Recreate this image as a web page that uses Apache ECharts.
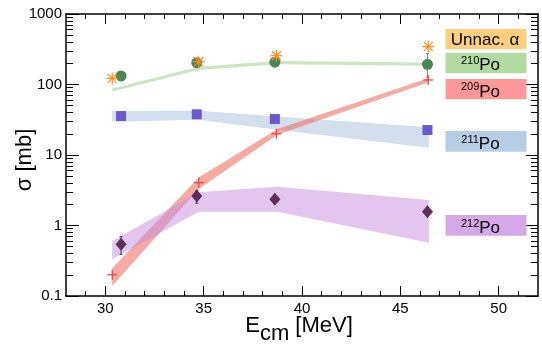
<!DOCTYPE html>
<html>
<head>
<meta charset="utf-8">
<script src="https://cdn.jsdelivr.net/npm/echarts@6/dist/echarts.min.js"></script>
<style>
html,body{margin:0;padding:0;background:#fff;}
#chart{width:542px;height:349px;}
</style>
</head>
<body>
<div id="chart"></div>
<script>
// ---- data ----
const xTickLabels = [30, 35, 40, 45, 50];
const xMinorTicks = [29, 31, 32, 33, 34, 36, 37, 38, 39, 41, 42, 43, 44, 46, 47, 48, 49, 51];
const yTickLabels = [0.1, 1, 10, 100, 1000];
const yMinorTicks = [0.2,0.3,0.4,0.5,0.6,0.7,0.8,0.9, 2,3,4,5,6,7,8,9, 20,30,40,50,60,70,80,90, 200,300,400,500,600,700,800,900];

const bandE  = [30.35, 34.75, 38.75, 46.45];
const alphaE = [30.35, 34.75, 38.7, 46.42];
const poE    = [30.8, 34.65, 38.62, 46.38];

const unnacAlpha = [122, 211, 256, 344];
const po210 = [132, 204, 207, 193];
const po210ErrLo = [124, 193, 196, 125];
const po210ErrHi = [140, 215, 218, 275];
const po209 = [0.2, 4.05, 20, 116];
const po211 = [35.7, 37.8, 32.4, 22.6];
const po212 = [0.54, 2.62, 2.35, 1.57];
const po212ErrLo = [0.39, 2.07, 2.15, 1.38];
const po212ErrHi = [0.70, 3.15, 2.57, 1.80];

const band210Lo = [79.5, 160, 193, 185];
const band210Hi = [88, 178, 215, 205];
const band209Lo = [0.139, 3.3, 19.3, 108];
const band209Hi = [0.247, 4.8, 23.3, 124];
const band211Lo = [29.6, 31.5, 22.9, 12.7];
const band211Hi = [42.1, 42.5, 35.1, 24.7];
const band212Lo = [0.332, 1.57, 1.57, 0.57];
const band212Hi = [0.603, 2.96, 3.55, 2.30];

// ---- helpers ----
const FONT = 'Liberation Sans, Arial, Helvetica, sans-serif';
function bandSeries(xs, lo, hi, color, z) {
  return {
    type: 'custom', z: z, silent: true, clip: true,
    data: xs.map((x, i) => [x, lo[i]]),
    renderItem: function (params, api) {
      if (params.dataIndex !== 0) return null;
      const pts = [];
      for (let i = 0; i < xs.length; i++) pts.push(api.coord([xs[i], hi[i]]));
      for (let i = xs.length - 1; i >= 0; i--) pts.push(api.coord([xs[i], lo[i]]));
      return { type: 'polygon', shape: { points: pts }, style: { fill: color } };
    }
  };
}
function errSeries(xs, lo, hi, color, cap, z) {
  return {
    type: 'custom', z: z, silent: true,
    data: xs.map((x, i) => [x, lo[i], hi[i]]),
    encode: { x: 0, y: [1, 2] },
    renderItem: function (params, api) {
      const a = api.coord([api.value(0), api.value(1)]);
      const b = api.coord([api.value(0), api.value(2)]);
      const st = { stroke: color, lineWidth: 1 };
      return { type: 'group', children: [
        { type: 'line', shape: { x1: a[0], y1: a[1], x2: b[0], y2: b[1] }, style: st },
        { type: 'line', shape: { x1: a[0]-cap, y1: a[1], x2: a[0]+cap, y2: a[1] }, style: st },
        { type: 'line', shape: { x1: b[0]-cap, y1: b[1], x2: b[0]+cap, y2: b[1] }, style: st }
      ]};
    }
  };
}
function lineMarker(xs, ys, color, kind, r, z) {
  return {
    type: 'custom', z: z, silent: true,
    data: xs.map((x, i) => [x, ys[i]]),
    renderItem: function (params, api) {
      const p = api.coord([api.value(0), api.value(1)]);
      const st = { stroke: color, lineWidth: 1.2 };
      const ch = [
        { type: 'line', shape: { x1: p[0]-r, y1: p[1], x2: p[0]+r, y2: p[1] }, style: st },
        { type: 'line', shape: { x1: p[0], y1: p[1]-r, x2: p[0], y2: p[1]+r }, style: st }
      ];
      if (kind === 'star') {
        const d = r * 0.75;
        ch.push({ type: 'line', shape: { x1: p[0]-d, y1: p[1]-d, x2: p[0]+d, y2: p[1]+d }, style: st });
        ch.push({ type: 'line', shape: { x1: p[0]-d, y1: p[1]+d, x2: p[0]+d, y2: p[1]-d }, style: st });
      }
      return { type: 'group', children: ch };
    }
  };
}
function pairs(xs, ys) { return xs.map((x, i) => [x, ys[i]]); }

const axisLine = { show: true, lineStyle: { color: '#000', width: 1.5 } };
function xAx(pos, ticks, len, labels, showLine) {
  return {
    type: 'value', position: pos, min: 28, max: 52,
    axisLine: showLine ? axisLine : { show: false },
    axisTick: { show: true, inside: true, length: len, customValues: ticks, lineStyle: { color: '#000', width: 1 } },
    axisLabel: labels ? { show: true, customValues: labels, color: '#000', fontSize: 15, fontFamily: FONT, margin: 5 } : { show: false },
    splitLine: { show: false }
  };
}
function yAx(pos, ticks, len, labels, showLine) {
  return {
    type: 'log', logBase: 10, position: pos, min: 0.1, max: 1000,
    axisLine: showLine ? axisLine : { show: false },
    axisTick: { show: true, inside: true, length: len, customValues: ticks, lineStyle: { color: '#000', width: 1 } },
    axisLabel: labels ? { show: true, customValues: labels, color: '#000', fontSize: 15, fontFamily: FONT, margin: 4,
      formatter: v => String(v) } : { show: false },
    splitLine: { show: false }
  };
}

const legendBoxes = [
  { y0: 29, y1: 49.3, color: '#ffcf80', text: 'Unnac. α', tx: 485, sup: null },
  { y0: 52.7, y1: 73.3, color: '#b3db9f', text: 'Po', tx: 480.5, sup: '210' },
  { y0: 79, y1: 99.3, color: '#ff9999', text: 'Po', tx: 480.5, sup: '209' },
  { y0: 131, y1: 151.7, color: '#b7cde3', text: 'Po', tx: 480.5, sup: '211' },
  { y0: 215, y1: 235.7, color: '#d5a9e7', text: 'Po', tx: 480.5, sup: '212' }
];
const graphics = [];
legendBoxes.forEach(b => {
  graphics.push({ type: 'rect', shape: { x: 445.5, y: b.y0, width: 81, height: b.y1 - b.y0 }, style: { fill: b.color }, z: 1 });
  const cy = (b.y0 + b.y1) / 2;
  if (b.sup) {
    graphics.push({ type: 'text', x: b.tx, y: cy + 2.8, z: 2, style: {
      text: '{s|' + b.sup + '}{t|' + b.text + '}', align: 'center', verticalAlign: 'middle',
      rich: { s: { fontSize: 11, fontFamily: FONT, fill: '#000', lineHeight: 11, verticalAlign: 'top' },
              t: { fontSize: 17, fontFamily: FONT, fill: '#000', lineHeight: 20 } } } });
  } else {
    graphics.push({ type: 'text', x: b.tx, y: cy + 0.8, z: 2, style: {
      text: b.text, fontSize: 17, fontFamily: FONT, fill: '#000', align: 'center', verticalAlign: 'middle' } });
  }
});
graphics.push({ type: 'text', x: 25, y: 160, rotation: Math.PI / 2, style: {
  text: 'σ [mb]', fontSize: 22, fontFamily: FONT, fill: '#000', align: 'center', verticalAlign: 'middle' } });
graphics.push({ type: 'text', x: 299, y: 334, style: {
  text: '{e|E}{s|cm}{e| [MeV]}', align: 'center', verticalAlign: 'middle',
  rich: { e: { fontSize: 22, fontFamily: FONT, fill: '#000', lineHeight: 26, verticalAlign: 'top' },
          s: { fontSize: 22, fontFamily: FONT, fill: '#000', lineHeight: 38 } } } });

const chart = echarts.init(document.getElementById('chart'), null, { renderer: 'canvas' });
chart.setOption({
  animation: false,
  backgroundColor: '#fff',
  grid: { left: 66, right: 4, top: 14, bottom: 53, containLabel: false },
  xAxis: [
    xAx('bottom', xTickLabels, 10, xTickLabels, true),
    xAx('bottom', xMinorTicks, 5, null, false),
    xAx('top', xTickLabels, 10, null, true),
    xAx('top', xMinorTicks, 5, null, false)
  ],
  yAxis: [
    yAx('left', yTickLabels, 13, yTickLabels, true),
    yAx('left', yMinorTicks, 7, null, false),
    yAx('right', yTickLabels, 12, null, true),
    yAx('right', yMinorTicks, 7, null, false)
  ],
  series: [
    bandSeries(bandE, band210Lo, band210Hi, '#cde5c1', 1),
    bandSeries(bandE, band211Lo, band211Hi, '#d3dfec', 1),
    bandSeries(bandE, band209Lo, band209Hi, 'rgba(238,113,103,0.6)', 2),
    bandSeries(bandE, band212Lo, band212Hi, 'rgba(197,141,221,0.5)', 3),
    errSeries(poE, po210ErrLo, po210ErrHi, '#6a9472', 1.5, 4),
    errSeries(poE, po212ErrLo, po212ErrHi, '#5c2e5e', 1.5, 4),
    { type: 'scatter', z: 5, symbol: 'circle', symbolSize: 11, data: pairs(poE, po210), itemStyle: { color: '#4b8553', opacity: 1 }, silent: true },
    { type: 'scatter', z: 5, symbol: 'rect', symbolSize: 10, data: pairs(poE, po211), itemStyle: { color: '#6a5acd', opacity: 1 }, silent: true },
    { type: 'scatter', z: 5, symbol: 'diamond', symbolSize: [11, 13], data: pairs(poE, po212), itemStyle: { color: '#5c2e5e', opacity: 1 }, silent: true },
    lineMarker(alphaE, unnacAlpha, '#ff8c1a', 'star', 6, 6),
    lineMarker(alphaE, po209, '#f03c3c', 'cross', 5, 6)
  ],
  graphic: graphics
});
</script>
</body>
</html>
